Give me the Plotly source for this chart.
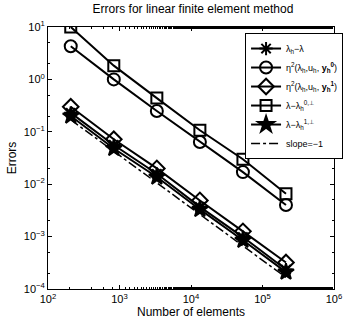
import plotly.graph_objects as go

n_elements = [208, 832, 3328, 13312, 53248, 212992]
err_lambda = [0.23, 0.056, 0.0158, 0.0037, 0.00098, 0.000235]
eta_y0 = [4.3, 1.0, 0.25, 0.064, 0.017, 0.0040]
eta_y1 = [0.30, 0.072, 0.020, 0.0049, 0.00126, 0.00032]
err_perp0 = [10.0, 1.83, 0.44, 0.107, 0.030, 0.0066]
err_perp1 = [0.20, 0.048, 0.0137, 0.0033, 0.00085, 0.00021]
slope_ref = [0.17, 0.0425, 0.0106, 0.00266, 0.000664, 0.000166]

x_tickvals = [1e2, 1e3, 1e4, 1e5, 1e6]
x_ticktext = ["10<sup>2</sup>", "10<sup>3</sup>", "10<sup>4</sup>", "10<sup>5</sup>", "10<sup>6</sup>"]
y_tickvals = [1e-4, 1e-3, 1e-2, 1e-1, 1e0, 1e1]
y_ticktext = ["10<sup>−4</sup>", "10<sup>−3</sup>", "10<sup>−2</sup>", "10<sup>−1</sup>",
              "10<sup>0</sup>", "10<sup>1</sup>"]

names = [
    "λ<sub>h</sub>−λ",
    "η<sup>2</sup>(λ<sub>h</sub>,u<sub>h</sub>, <b>y</b><sub><b>h</b></sub><sup><b>0</b></sup>)",
    "η<sup>2</sup>(λ<sub>h</sub>,u<sub>h</sub>, <b>y</b><sub><b>h</b></sub><sup><b>1</b></sup>)",
    "λ−λ<sub>h</sub><sup>0,⊥</sup>",
    "λ−λ<sub>h</sub><sup>1,⊥</sup>",
    "slope=−1",
]

fig = go.Figure()
series = [
    (err_lambda, "asterisk-open", 11),
    (eta_y0, "circle-open", 12),
    (eta_y1, "diamond-open", 12),
    (err_perp0, "square-open", 11),
    (err_perp1, "star", 12),
]
for (vals, sym, sz), nm in zip(series, names[:5]):
    fig.add_trace(go.Scatter(
        x=n_elements, y=vals, name=nm, mode="lines+markers",
        line=dict(color="black", width=2),
        marker=dict(symbol=sym, size=sz, color="black",
                    line=dict(color="black", width=2)),
    ))
fig.add_trace(go.Scatter(
    x=n_elements, y=slope_ref, name=names[5], mode="lines",
    line=dict(color="black", width=1.5, dash="dashdot"),
))

axis_common = dict(
    type="log", showgrid=False, zeroline=False,
    showline=True, linecolor="black", linewidth=1, mirror="ticks",
    ticks="inside", ticklen=4, tickcolor="black",
    tickfont=dict(family="Liberation Sans, Arial", size=11, color="black"),
    minor=dict(ticks="inside", ticklen=2, tickcolor="black", showgrid=False),
)

fig.update_xaxes(range=[2, 6], tickmode="array", tickvals=x_tickvals, ticktext=x_ticktext,
                 title=dict(text="Number of elements", standoff=2,
                            font=dict(family="Liberation Sans, Arial", size=12, color="black")),
                 **axis_common)
fig.update_yaxes(range=[-4, 1], tickmode="array", tickvals=y_tickvals, ticktext=y_ticktext,
                 title=dict(text="Errors", standoff=4,
                            font=dict(family="Liberation Sans, Arial", size=12, color="black")),
                 **axis_common)

fig.update_layout(
    width=354, height=327,
    margin=dict(l=42, r=11, t=27, b=36),
    paper_bgcolor="white", plot_bgcolor="white",
    title=dict(text="Errors for linear finite element method", x=0.545, xanchor="center",
               y=0.985, yanchor="top",
               font=dict(family="Liberation Sans, Arial", size=12, color="black")),
    legend=dict(x=0.689, y=0.977, xanchor="left", yanchor="top",
                bgcolor="white", bordercolor="black", borderwidth=1,
                font=dict(family="Liberation Sans, Arial", size=9, color="black"),
                itemwidth=30, tracegroupgap=0),
    showlegend=True,
)

fig.write_html("out.html", config={"displayModeBar": False},
               post_script="document.body.style.margin='0';")
